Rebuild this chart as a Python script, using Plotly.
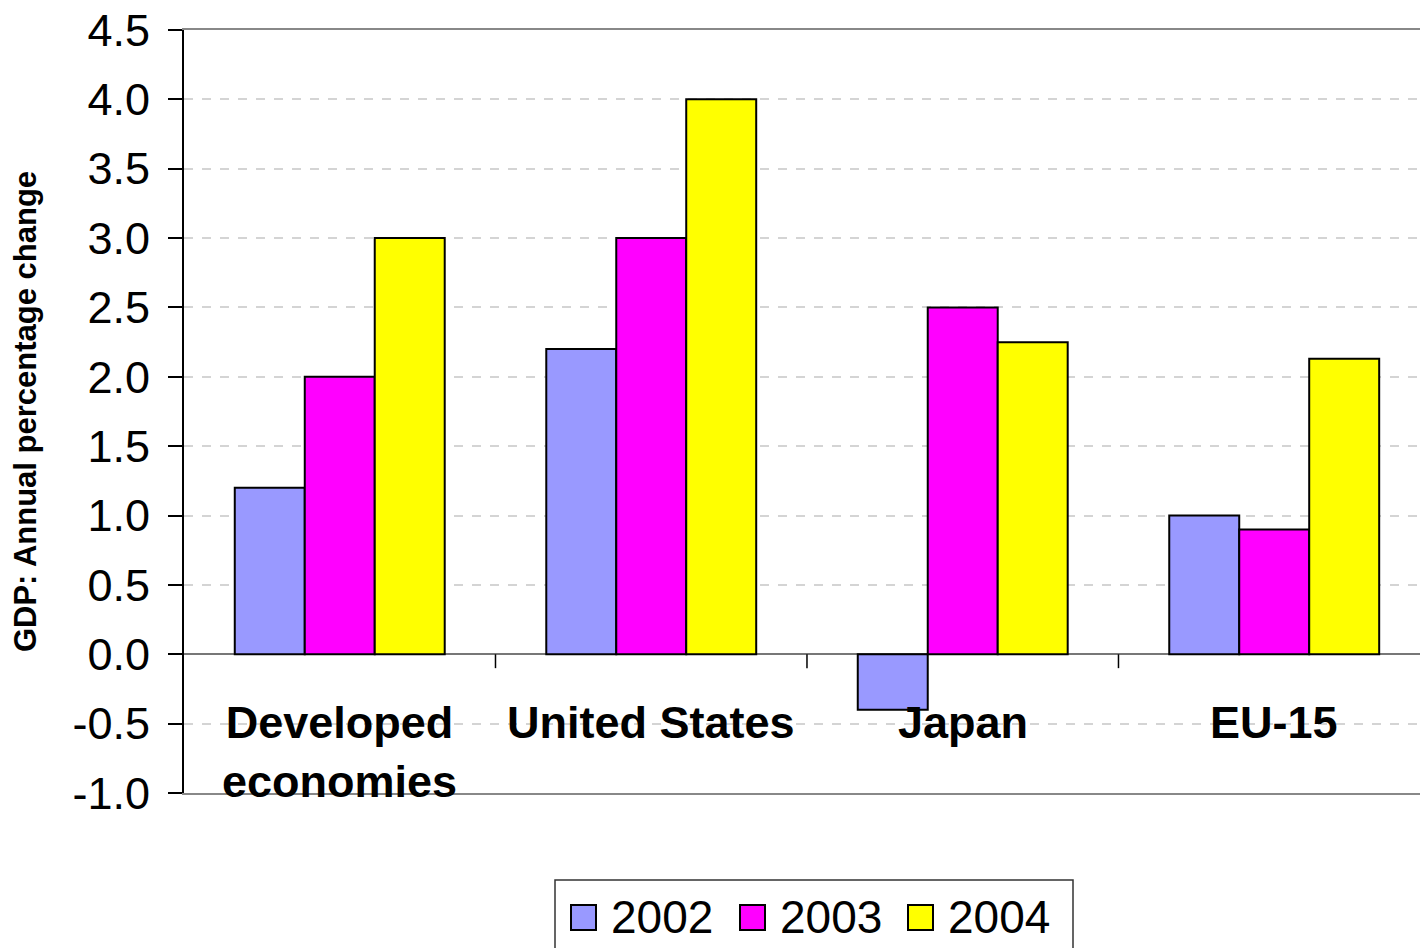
import plotly.graph_objects as go

categories = ["Developed<br>economies", "United States", "Japan", "EU-15"]
years = ["2002", "2003", "2004"]
gdp_2002 = [1.2, 2.2, -0.4, 1.0]
gdp_2003 = [2.0, 3.0, 2.5, 0.9]
gdp_2004 = [3.0, 4.0, 2.25, 2.13]
colors = ["#9999FF", "#FF00FF", "#FFFF00"]
y_ticks = [-1.0, -0.5, 0.0, 0.5, 1.0, 1.5, 2.0, 2.5, 3.0, 3.5, 4.0, 4.5]

FONT = "Liberation Sans, Arial, sans-serif"
x_idx = list(range(len(categories)))

fig = go.Figure()
for name, vals, col in zip(years, [gdp_2002, gdp_2003, gdp_2004], colors):
    fig.add_trace(go.Bar(
        x=x_idx, y=vals, name=name,
        marker=dict(color=col, line=dict(color="black", width=2)),
        showlegend=False,
    ))

fig.update_layout(
    width=1420, height=948,
    margin=dict(l=184, r=0, t=30, b=155),
    paper_bgcolor="white", plot_bgcolor="white",
    barmode="group", bargap=0.326, bargroupgap=0,
    font=dict(family=FONT, color="black"),
)

fig.update_xaxes(
    range=[-0.5, 3.468], showticklabels=False, ticks="",
    showgrid=False, zeroline=False,
    showline=True, linecolor="#888888", linewidth=2, mirror=True,
)
fig.update_yaxes(
    range=[-1.0, 4.5], tickvals=y_ticks,
    ticktext=[f"{v:.1f}" for v in y_ticks],
    tickfont=dict(size=45, family=FONT, color="black"),
    ticks="outside", ticklen=14, tickwidth=2, tickcolor="black",
    ticklabelstandoff=9,
    showline=True, linecolor="black", linewidth=2,
    showgrid=True, gridcolor="#d4d4d4", gridwidth=1.5, griddash="dash",
    zeroline=True, zerolinecolor="#777777", zerolinewidth=2,
    title=dict(text="<b>GDP: Annual percentage change</b>",
               font=dict(size=31, family=FONT, color="black"), standoff=27),
)

# category separator ticks hanging below the zero line
for b in [0.5, 1.5, 2.5]:
    fig.add_shape(type="line", xref="x", yref="y", x0=b, x1=b, y0=0, y1=-0.1,
                  line=dict(color="black", width=1.5))

# category labels
for i, cat in enumerate(categories):
    fig.add_annotation(
        x=i, y=-0.296, xref="x", yref="y", text=f"<b>{cat}</b>",
        showarrow=False, xanchor="center", yanchor="top",
        font=dict(size=45, family=FONT, color="black"),
    )

# legend box
lx0, lx1 = 555, 1073
ly0, ly1 = 880, 960
W, H = 1420 - 184, 793 - 30


def px(xp):
    return (xp - 184) / W


def py(yp):
    return (793 - yp) / H


fig.add_shape(type="rect", xref="paper", yref="paper",
              x0=px(lx0), x1=px(lx1), y0=py(ly1), y1=py(ly0),
              line=dict(color="#333333", width=1.5), fillcolor="white")
item_x = [571, 740, 908]
for xs, name, col in zip(item_x, years, colors):
    fig.add_shape(type="rect", xref="paper", yref="paper",
                  x0=px(xs), x1=px(xs + 25), y0=py(930), y1=py(905),
                  line=dict(color="black", width=2), fillcolor=col)
    fig.add_annotation(x=px(xs + 38), y=py(917), xref="paper", yref="paper",
                       text=name, showarrow=False, xanchor="left",
                       yanchor="middle",
                       font=dict(size=46, family=FONT, color="black"))

fig.write_html("out.html")
